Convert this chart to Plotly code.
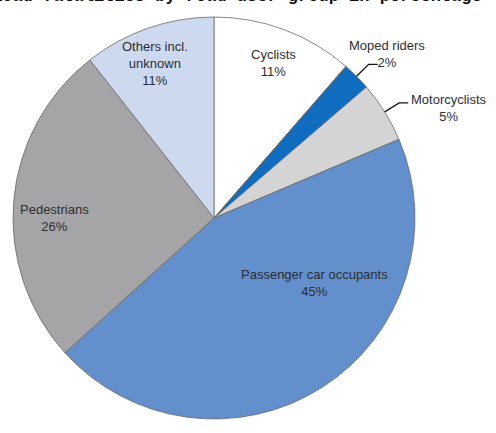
import math
import plotly.graph_objects as go

# ---- data ----
categories = ["Cyclists", "Moped riders", "Motorcyclists",
              "Passenger car occupants", "Pedestrians", "Others incl.<br>unknown"]
shares = [11.4, 2.3, 4.9, 44.7, 26.1, 10.6]
title_text = "Road fatalities by road user group in percentage"

# ---- style ----
colors = ["#ffffff", "#0f6cbf", "#d4d4d4", "#6390cd", "#a5a5a7", "#ccd9ef"]
FIG_W, FIG_H = 496, 433
L, T, S = 13, 17, 402           # plot area left/top and square size
R = S / 2
CX, CY = L + R, T + R
FONT = "Liberation Sans, Arial, sans-serif"
TXT = "#2e2e2e"

# label block centres (pixels) and whether a leader line is drawn
label_px = [(273, 63), (387, 54), (449, 108), (314, 283), (54, 218), (155, 64)]
leader = [False, True, True, False, False, False]


def to_paper(px, py):
    return (px - L) / S, 1 - (py - T) / S


fig = go.Figure(go.Pie(
    labels=categories, values=shares, sort=False, direction="clockwise",
    rotation=0, textinfo="none", hoverinfo="label+percent",
    marker=dict(colors=colors, line=dict(color="#6a6a6a", width=0.8)),
    domain=dict(x=[0, 1], y=[0, 1]), showlegend=False,
))

annotations = []
shapes = []
total = sum(shares)
cum = 0.0
for i, (cat, v) in enumerate(zip(categories, shares)):
    start = cum / total * 360
    cum += v
    end = cum / total * 360
    mid = math.radians((start + end) / 2)
    x, y = to_paper(*label_px[i])
    annotations.append(dict(
        x=x, y=y, xref="paper", yref="paper", showarrow=False,
        text=f"{cat}<br>{round(v)}%", align="center",
        font=dict(family=FONT, size=13, color=TXT),
        xanchor="center", yanchor="middle",
    ))
    if leader[i]:
        p0 = (CX + R * math.sin(mid), CY - R * math.cos(mid))
        p1 = (CX + 1.085 * R * math.sin(mid), CY - 1.085 * R * math.cos(mid))
        p2 = (p1[0] + 9, p1[1])
        pts = [to_paper(*p) for p in (p0, p1, p2)]
        path = "M {} {} L {} {} L {} {}".format(*[c for p in pts for c in p])
        shapes.append(dict(type="path", path=path, xref="paper", yref="paper",
                           line=dict(color="#111111", width=1.3)))

# cropped title at the top edge (only the lower part of the letters is visible)
annotations.append(dict(
    x=to_paper(-10, 0)[0], y=to_paper(0, 8)[1], xref="paper", yref="paper",
    showarrow=False, text=f"<b>{title_text}</b>", xanchor="left", yanchor="bottom",
    font=dict(family="Liberation Mono, DejaVu Sans Mono, monospace", size=17,
              color="#111111"),
))

fig.update_layout(
    width=FIG_W, height=FIG_H,
    margin=dict(l=L, r=FIG_W - L - S, t=T, b=FIG_H - T - S, autoexpand=False),
    paper_bgcolor="white", plot_bgcolor="white",
    annotations=annotations, shapes=shapes,
)

fig.write_html("out.html", config={"displayModeBar": False},
               post_script="document.body.style.margin='0';"
                           "document.body.style.padding='0';")
